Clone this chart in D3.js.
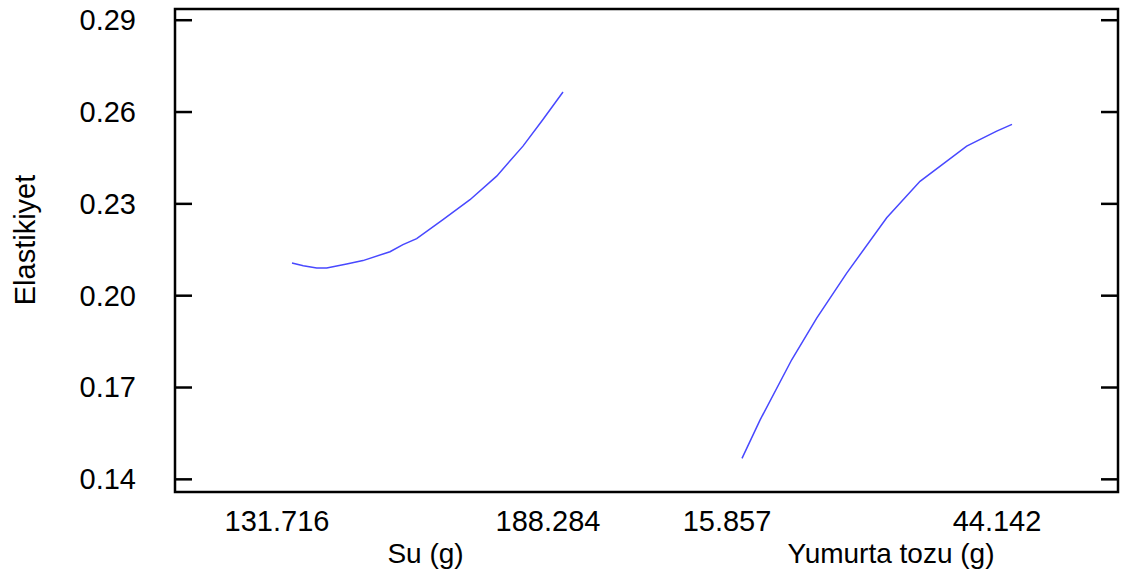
<!DOCTYPE html>
<html>
<head>
<meta charset="utf-8">
<script src="https://cdn.jsdelivr.net/npm/d3@7"></script>
<style>
    body { margin: 0; background: #fff; }
    text { font-family: 'Liberation Sans', Arial, sans-serif; fill: #000; }
</style>
</head>
<body>
<div id="chart"></div>
<script>
// factor levels (low, high) as printed under the axis
const suLevels = [131.716, 188.284];
const yumurtaLevels = [15.857, 44.142];

// main effect curves
const suX = [131.716, 134.07, 136.87, 138.96, 143.13, 146.53, 152.17, 154.88, 157.74, 163.23, 168.87, 174.44, 179.93, 184.10, 188.284];
const suY = [0.2105, 0.2096, 0.2089, 0.2089, 0.2102, 0.2113, 0.2142, 0.2165, 0.2185, 0.2247, 0.2312, 0.2389, 0.2487, 0.2574, 0.2664];

const yumurtaX = [15.857, 17.743, 21.064, 23.683, 26.826, 31.016, 34.505, 39.397, 42.540, 44.142];
const yumurtaY = [0.1467, 0.1592, 0.1789, 0.1925, 0.2072, 0.2253, 0.2372, 0.2487, 0.2536, 0.2558];

const yTicks = [0.14, 0.17, 0.20, 0.23, 0.26, 0.29];

const width = 1133, height = 576;
const frame = {left: 175, top: 9, right: 1118, bottom: 492};

const svg = d3.select('#chart').append('svg').attr('width', width).attr('height', height);

const y = d3.scaleLinear().domain([0.1357, 0.2935]).range([frame.bottom, frame.top]);

const panels = [
    {name: 'Su (g)', levels: suLevels, xs: suX, ys: suY, range: [292, 563], titleDx: -2},
    {name: 'Yumurta tozu (g)', levels: yumurtaLevels, xs: yumurtaX, ys: yumurtaY, range: [742, 1012], titleDx: 14}
];

// frame with inward ticks on both sides
svg.append('rect').attr('x', frame.left).attr('y', frame.top)
    .attr('width', frame.right - frame.left).attr('height', frame.bottom - frame.top)
    .style('fill', 'none').style('stroke', '#000').style('stroke-width', 2.5);

svg.append('g').attr('transform', `translate(${frame.left}, 0)`)
    .call(d3.axisRight(y).tickValues(yTicks).tickSize(17).tickFormat(''))
    .call(g => g.select('.domain').remove())
    .selectAll('line').style('stroke', '#000').style('stroke-width', 2.5);

svg.append('g').attr('transform', `translate(${frame.right}, 0)`)
    .call(d3.axisLeft(y).tickValues(yTicks).tickSize(17).tickFormat(''))
    .call(g => g.select('.domain').remove())
    .selectAll('line').style('stroke', '#000').style('stroke-width', 2.5);

svg.selectAll('.ylab').data(yTicks).enter().append('text').attr('class', 'ylab')
    .attr('x', 136).attr('y', d => y(d)).attr('dy', '0.36em')
    .attr('text-anchor', 'end').style('font-size', '29px').text(d3.format('.2f'));

svg.append('text').attr('transform', `translate(35, 240) rotate(-90)`)
    .attr('text-anchor', 'middle').style('font-size', '29px').text('Elastikiyet');

panels.forEach(p => {
    const x = d3.scaleLinear().domain(p.levels).range(p.range);
    const line = d3.line().x(d => x(d[0])).y(d => y(d[1]));

    svg.append('path').datum(d3.zip(p.xs, p.ys)).attr('d', line)
        .style('fill', 'none').style('stroke', '#4848ff').style('stroke-width', 1.5);

    svg.selectAll(null).data(p.levels).enter().append('text')
        .attr('x', d => x(d) - 15).attr('y', 531)
        .attr('text-anchor', 'middle').style('font-size', '29px').text(d => d);

    svg.append('text').attr('x', (p.range[0] + p.range[1]) / 2 + p.titleDx).attr('y', 563)
        .attr('text-anchor', 'middle').style('font-size', '28px').text(p.name);
});
</script>
</body>
</html>
